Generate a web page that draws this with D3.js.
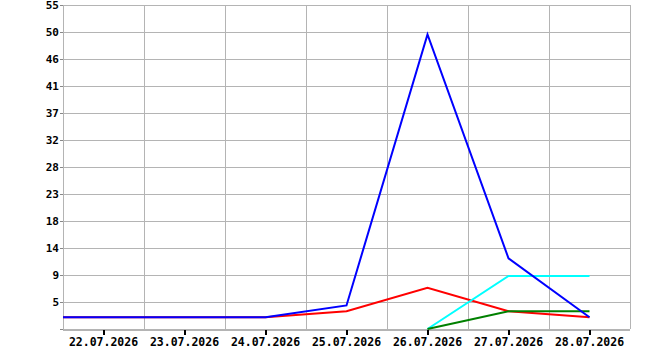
<html>
<script src='https://d3js.org/d3.v7.min.js'></script>
<style>
body { margin:0; background:#fff; }
text { font-family: "DejaVu Sans Mono", monospace; font-weight:bold; font-size:11px; fill:#000; }
</style>
<body>
<svg width=670 height=350></svg>
<script>
// "21.07.2026" lies left of the visible window; its line segment is clipped at the left edge
var dates = ["21.07.2026","22.07.2026","23.07.2026","24.07.2026","25.07.2026","26.07.2026","27.07.2026","28.07.2026"];
var shownDates = dates.slice(1);
var blueVals  = [2, 2, 2, 2, 4, 50, 12, 2];
var redVals   = [2, 2, 2, 2, 3, 7, 3, 2];
var cyanVals  = [null, null, null, null, null, 0, 9, 9];
var greenVals = [null, null, null, null, null, 0, 3, 3];
var yTickVals   = [0, 4.583, 9.167, 13.75, 18.333, 22.917, 27.5, 32.083, 36.667, 41.25, 45.833, 50.417, 55];
var yTickLabels = ["", "5", "9", "14", "18", "23", "28", "32", "37", "41", "46", "50", "55"];

var width = 670, height = 350;
var margin = {top: 5, right: 40, bottom: 21, left: 63};
var svg = d3.select("svg");

var x = d3.scaleBand().domain(shownDates).range([margin.left, width - margin.right]);
var y = d3.scaleLinear().domain([0, 55]).range([height - margin.bottom, margin.top]);
var xPos = i => i === 0 ? x(dates[1]) - x.step() / 2 : x(dates[i]) + x.bandwidth() / 2;

svg.append("clipPath").attr("id", "plot")
	.append("rect").attr("x", margin.left).attr("y", 0)
	.attr("width", width - margin.left - margin.right).attr("height", height);

// grid
var grid = svg.append("g").attr("shape-rendering", "crispEdges");
grid.selectAll(".hg").data(yTickVals).enter().append("line")
	.attr("x1", margin.left).attr("x2", width - margin.right)
	.attr("y1", d => Math.round(y(d)) + 0.5).attr("y2", d => Math.round(y(d)) + 0.5)
	.attr("stroke", "#b4b4b4");
var vlines = shownDates.map(d => x(d)).concat([x.range()[1]]);
grid.selectAll(".vg").data(vlines).enter().append("line")
	.attr("x1", d => Math.round(d) + 0.5).attr("x2", d => Math.round(d) + 0.5)
	.attr("y1", margin.top).attr("y2", height - margin.bottom)
	.attr("stroke", "#b4b4b4");
grid.append("line")
	.attr("x1", margin.left).attr("x2", width - margin.right)
	.attr("y1", height - margin.bottom + 0.5).attr("y2", height - margin.bottom + 0.5)
	.attr("stroke", "#b4b4b4").attr("stroke-width", 2);

// y axis
var yAxis = svg.append("g")
	.attr("transform", `translate(${margin.left},0)`)
	.call(d3.axisLeft(y).tickValues(yTickVals).tickSize(3).tickPadding(1)
		.tickFormat((d, i) => yTickLabels[i]));
yAxis.select(".domain").remove();
yAxis.selectAll("line").attr("stroke", "#888").attr("shape-rendering", "crispEdges");
yAxis.selectAll("text").style("font-size", "11px").style("font-family", "'DejaVu Sans Mono', monospace").style("font-weight", "bold");

// x axis
var xAxis = svg.append("g")
	.attr("transform", `translate(0,${height - margin.bottom + 1})`)
	.call(d3.axisBottom(x).tickSize(5).tickPadding(3));
xAxis.select(".domain").remove();
xAxis.selectAll("line").attr("stroke", "#000").attr("stroke-width", 2).attr("shape-rendering", "crispEdges");
xAxis.selectAll("text").style("font-size", "11.5px").style("font-family", "'DejaVu Sans Mono', monospace").style("font-weight", "bold");

// lines
var line = d3.line()
	.defined(d => d != null)
	.x((d, i) => xPos(i))
	.y(d => y(d));
var series = [
	{vals: redVals, color: "#ff0000"},
	{vals: cyanVals, color: "#00ffff"},
	{vals: greenVals, color: "#008000"},
	{vals: blueVals, color: "#0000ff"}
];
var lines = svg.append("g").attr("clip-path", "url(#plot)");
series.forEach(function(s) {
	lines.append("path")
		.datum(s.vals)
		.attr("d", line)
		.attr("fill", "none")
		.attr("stroke", s.color)
		.attr("stroke-width", 2);
});
</script>
</body>
</html>
